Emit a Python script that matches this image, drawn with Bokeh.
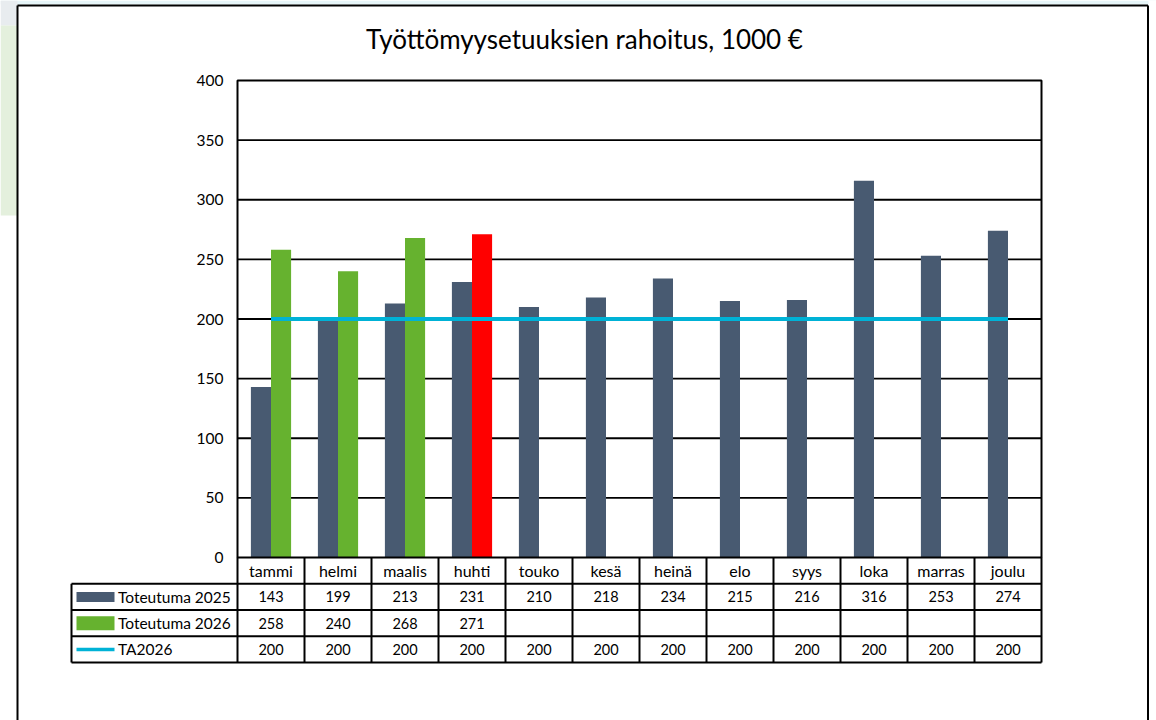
import numpy as np
from bokeh.plotting import figure
from bokeh.models import Range1d, ColumnDataSource
from bokeh.core.properties import value
from bokeh.embed import file_html
from bokeh.resources import INLINE

# ---------------- data ----------------
title_text = "Työttömyysetuuksien rahoitus, 1000 €"
months = ["tammi", "helmi", "maalis", "huhti", "touko", "kesä",
          "heinä", "elo", "syys", "loka", "marras", "joulu"]
toteutuma_2025 = [143, 199, 213, 231, 210, 218, 234, 215, 216, 316, 253, 274]
toteutuma_2026 = [258, 240, 268, 271]
ta2026 = [200, 200, 200, 200, 200, 200, 200, 200, 200, 200, 200, 200]
series_names = ["Toteutuma 2025", "Toteutuma 2026", "TA2026"]
y_ticks = [0, 50, 100, 150, 200, 250, 300, 350, 400]

# ---------------- style ----------------
C_2025 = "#485a71"
C_2026 = "#66b22f"
C_CUR = "#ff0000"
C_TA = "#00b2d6"
FONT = "Lato"

# ---------------- layout (pixels) ----------------
W, H = 1156, 720
PL, PT, PW, PH = 237, 80, 804, 477
N = len(months)
YMAX = y_ticks[-1]
cw = PW / N
ppu = PH / YMAX


def dx(px):
    return (px - PL) / cw


def dy(py):
    return (PT + PH - py) / ppu


rh = 26.25 / ppu          # table row height in value units
leg_left = dx(71)

p = figure(width=W, height=H, x_range=Range1d(dx(0), dx(W)),
           y_range=Range1d(dy(H), dy(0)), output_backend="svg",
           toolbar_location=None, min_border=0, outline_line_color=None,
           x_axis_location=None, y_axis_location=None,
           background_fill_color="white", border_fill_color="white")
p.grid.visible = False

# faint page background outside the chart frame
p.quad(left=[dx(0)], right=[dx(W)], top=[dy(0)], bottom=[dy(4)],
       fill_color="#e6f5f8", line_color=None)
p.quad(left=[dx(0)], right=[dx(17)], top=[dy(0)], bottom=[dy(25)],
       fill_color="#e8ecef", line_color=None)
p.quad(left=[dx(0)], right=[dx(17)], top=[dy(25)], bottom=[dy(215)],
       fill_color="#e4f0dd", line_color=None)
p.quad(left=[dx(1148)], right=[dx(W)], top=[dy(0)], bottom=[dy(H)],
       fill_color="white", line_color=None)

# outer frame
p.segment(x0=[dx(17), dx(1147.5), dx(17)], y0=[dy(5), dy(5), dy(5)],
          x1=[dx(17), dx(1147.5), dx(1147.5)], y1=[dy(H), dy(H), dy(5)],
          line_color="black", line_width=2)

# title
p.text(x=[dx(584)], y=[dy(38)], text=[title_text], text_font=value(FONT),
       text_font_size="26px", text_align="center", text_baseline="middle",
       text_color="black")

# gridlines
gy = [t for t in y_ticks if 0 < t < YMAX]
p.segment(x0=[0] * len(gy), x1=[N] * len(gy), y0=gy, y1=gy,
          line_color="black", line_width=1.8)

# y tick labels
p.text(x=[dx(223)] * len(y_ticks), y=y_ticks, text=[str(t) for t in y_ticks],
       text_font=value(FONT), text_font_size="15.5px", text_align="right",
       text_baseline="middle", text_color="black")

# bars
idx = np.arange(N)
bw = 0.3
src25 = ColumnDataSource(dict(x=idx + 0.5 - bw / 2, top=toteutuma_2025))
p.vbar(x="x", top="top", bottom=0, width=bw, source=src25,
       fill_color=C_2025, line_color=None)
n26 = len(toteutuma_2026)
col26 = [C_2026] * (n26 - 1) + [C_CUR]
src26 = ColumnDataSource(dict(x=idx[:n26] + 0.5 + bw / 2, top=toteutuma_2026,
                              color=col26))
p.vbar(x="x", top="top", bottom=0, width=bw, source=src26,
       fill_color="color", line_color=None)

# TA line
p.line(x=idx + 0.5, y=ta2026, line_color=C_TA, line_width=4)

# plot border
p.quad(left=[0], right=[N], bottom=[0], top=[YMAX], fill_color=None,
       line_color="black", line_width=2)

# ---------------- data table ----------------
hy = [-rh * k for k in range(1, 5)]
p.segment(x0=[leg_left] * 4, x1=[N] * 4, y0=hy, y1=hy,
          line_color="black", line_width=2)
vx = list(range(N + 1))
p.segment(x0=vx, x1=vx, y0=[0] * len(vx), y1=[-4 * rh] * len(vx),
          line_color="black", line_width=2)
p.segment(x0=[leg_left], x1=[leg_left], y0=[-rh], y1=[-4 * rh],
          line_color="black", line_width=2)

# category labels
p.text(x=idx + 0.5, y=[-0.5 * rh] * N, text=months, text_font=value(FONT),
       text_font_size="16px", text_align="center", text_baseline="middle",
       text_color="black")

# values
rows = [toteutuma_2025, toteutuma_2026, ta2026]
for r, vals in enumerate(rows, start=1):
    p.text(x=idx[:len(vals)] + 0.5, y=[-(r + 0.5) * rh] * len(vals),
           text=[str(v) for v in vals], text_font=value(FONT),
           text_font_size="14.5px", text_align="center",
           text_baseline="middle", text_color="black")

# legend keys
sx0, sx1 = dx(76), dx(114)
p.rect(x=[(sx0 + sx1) / 2], y=[-1.5 * rh], width=[sx1 - sx0], height=10,
       height_units="screen", fill_color=C_2025, line_color=None)
p.rect(x=[(sx0 + sx1) / 2], y=[-2.5 * rh], width=[sx1 - sx0], height=14,
       height_units="screen", fill_color=C_2026, line_color=None)
p.segment(x0=[sx0], x1=[sx1], y0=[-3.5 * rh], y1=[-3.5 * rh],
          line_color=C_TA, line_width=3.5)
p.text(x=[dx(117.5)] * 3, y=[-1.5 * rh, -2.5 * rh, -3.5 * rh],
       text=series_names, text_font=value(FONT), text_font_size="15.5px",
       text_align="left", text_baseline="middle", text_color="black")

open("out.html", "w").write(file_html(p, INLINE))
